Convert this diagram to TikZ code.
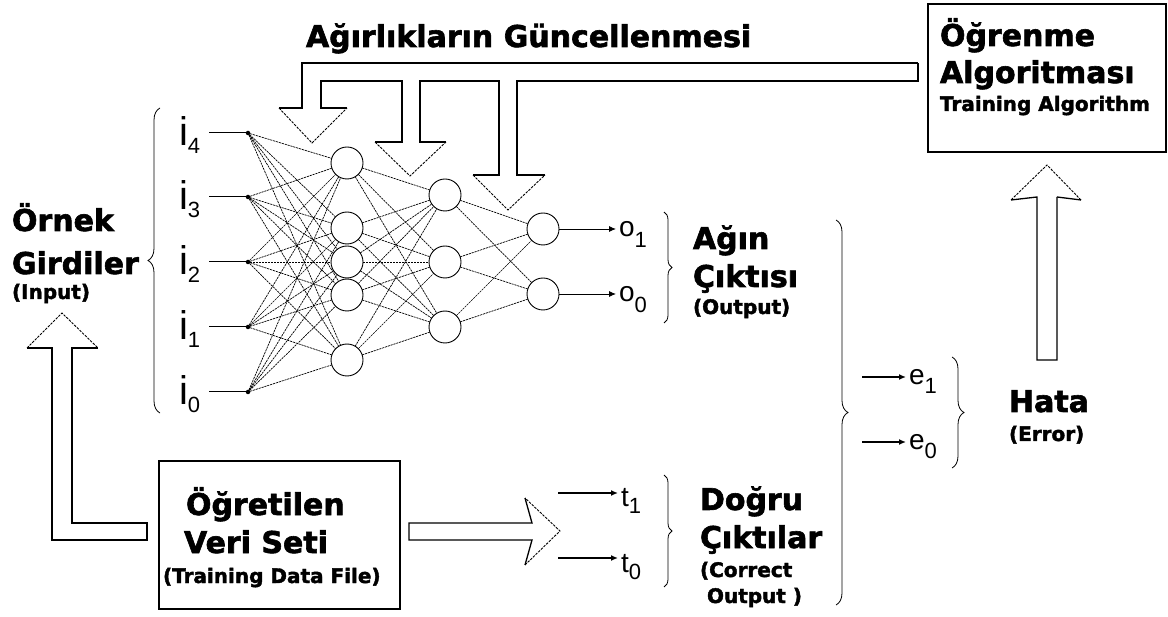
\documentclass[tikz,border=0pt]{standalone}
\usepackage{fontspec}
\setmainfont{DejaVu Sans}[BoldFeatures={FakeBold=2}]
\newfontfamily\thinsans{Liberation Sans}
\usetikzlibrary{decorations.pathreplacing,arrows.meta}
\newcommand{\sz}[1]{\fontsize{#1}{#1}\selectfont}
% symbol with a large, dropped index (i_4, o_1, ...)
\newcommand{\symb}[4]{{\sz{#1}#2}\raisebox{-#4pt}{\sz{22}#3}}
\begin{document}
\begin{tikzpicture}[x=1pt,y=-1pt,
  every node/.style={inner sep=0pt, outer sep=0pt},
  big/.style={font=\bfseries\sz{30}, anchor=base west},
  small/.style={font=\bfseries\sz{20}, anchor=base west},
  symlbl/.style={font=\thinsans, anchor=base west},
  neuron/.style={circle, draw, line width=0.9pt, minimum size=32pt},
  indot/.style={circle, fill, minimum size=4.5pt},
  syn/.style={line width=0.7pt, dash pattern=on 2.2pt off 0.8pt},
  hollow/.style={line width=1.3pt, line join=miter},
  headline/.style={line width=0.9pt, dash pattern=on 2.5pt off 1.2pt},
  brc/.style={decorate, decoration={brace, amplitude=#1}, line width=0.8pt},
  box/.style={draw, line width=1.6pt},
  arr/.style={line width=#1, -{Latex[length=7pt,width=6pt]}},
]
\useasboundingbox (0,0) rectangle (1168,617);

% ---------- title of the weight update path ----------
\node[big] (title) at (306,47) {Ağırlıkların Güncellenmesi};

% ---------- network: input points ----------
\foreach \k/\y in {4/133,3/197,2/262,1/327,0/392}{
  \node[indot] (d\k) at (248,\y) {};
  \node[symlbl] (i\k) at (179,\y+13) {\symb{40}{i}{\k}{8}};
  \draw[line width=1pt, shorten >=9pt] (d\k) -- (d\k -| i\k.east);
}
% hidden layer 1
\foreach \k/\y in {1/163,2/228,3/262,4/295,5/360}{
  \node[neuron] (a\k) at (347,\y) {};
}
% hidden layer 2
\foreach \k/\y in {1/195,2/262,3/327}{
  \node[neuron] (b\k) at (445,\y) {};
}
% output layer
\node[neuron] (c1) at (543,229) {};
\node[neuron] (c0) at (543,294) {};

% synapses
\foreach \s in {0,...,4}{
  \foreach \t in {1,...,5}{
    \draw[syn] (d\s) -- (a\t);
  }
}
\foreach \s in {1,...,5}{
  \foreach \t in {1,2,3}{
    \draw[syn] (a\s) -- (b\t);
  }
}
\foreach \s in {1,2,3}{
  \foreach \t in {0,1}{
    \draw[syn] (b\s) -- (c\t);
  }
}

% network outputs
\node[symlbl] (o1) at (619,237) {\symb{28}{o}{1}{11}};
\node[symlbl] (o0) at (619,302) {\symb{28}{o}{0}{11}};
\draw[arr=0.9pt, shorten >=3pt] (c1) -- (c1 -| o1.west);
\draw[arr=0.9pt, shorten >=3pt] (c0) -- (c0 -| o0.west);
\draw[brc=8pt] (664,212) -- (664,323);
\node[big] (agin) at (693,249) {Ağın};
\node[big] (ciktisi) at (693,287) {Çıktısı};
\node[small] (outp) at (693,314) {(Output)};

% ---------- weight update block arrows ----------
\draw[hollow] (918,63) -- (302,63) -- (302,108) -- (279,108);
\draw[headline] (279,108) -- (312,143) -- (347,108);
\draw[hollow] (347,108) -- (321,108) -- (321,81) -- (402,81) -- (402,142) -- (375,142);
\draw[headline] (375,142) -- (410,176) -- (446,142);
\draw[hollow] (446,142) -- (420,142) -- (420,81) -- (499,81) -- (499,175) -- (473,175);
\draw[headline] (473,175) -- (508,210) -- (545,175);
\draw[hollow] (545,175) -- (517,175) -- (517,81) -- (918,81) -- (918,63);

% ---------- training algorithm box ----------
\node[box, minimum width=238pt, minimum height=148pt] (algbox) at (1047,78) {};
\node[big] (ogr) at (940,46) {Öğrenme};
\node[big] (alg) at (940,83) {Algoritması};
\node[small] (talg) at (940,111) {Training Algorithm};

% error to algorithm
\draw[hollow] (1057,197) -- (1081,200);
\draw[headline] (1081,200) -- (1047,165) -- (1011,200);
\draw[hollow] (1011,200) -- (1037,197) -- (1037,360) -- (1057,360) -- (1057,197);

% ---------- sample inputs ----------
\draw[brc=12pt] (160,413) -- (160,108);
\node[big] (ornek) at (12,231) {Örnek};
\node[big] (girdiler) at (12,274) {Girdiler};
\node[small] (inp) at (12,299) {(Input)};

% data file to inputs
\draw[hollow] (98,348) -- (72,348) -- (72,523) -- (147,523) -- (147,540) -- (52,540) -- (52,348) -- (27,348);
\draw[headline] (27,348) -- (62,313) -- (98,348);

% ---------- training data file ----------
\node[box, minimum width=241pt, minimum height=148pt] (databox) at (279.5,535) {};
\node[big] (ogret) at (186,515) {Öğretilen};
\node[big] (veri) at (184,553) {Veri Seti};
\node[small] (tdf) at (163,583) {(Training Data File)};

% data file to correct outputs
\draw[hollow] (525,498) -- (532,523) -- (409,523) -- (409,540) -- (532,540) -- (525,565);
\draw[headline] (525,565) -- (560,531) -- (525,498);

% ---------- correct outputs ----------
\coordinate (ts1) at (558,493);
\coordinate (ts0) at (558,558);
\node[symlbl] (t1) at (621,507) {\symb{28}{t}{1}{7}};
\node[symlbl] (t0) at (621,572) {\symb{28}{t}{0}{7}};
\draw[arr=1.6pt, shorten >=3pt] (ts1) -- (ts1 -| t1.west);
\draw[arr=1.6pt, shorten >=3pt] (ts0) -- (ts0 -| t0.west);
\draw[brc=8pt] (664,475) -- (664,587);
\node[big] (dogru) at (700,510) {Doğru};
\node[big] (ciktilar) at (700,548) {Çıktılar};
\node[small] (corr) at (700,577) {(Correct};
\node[small] (corr2) at (707,603) {Output )};

% ---------- error ----------
\draw[brc=12pt] (836,220) -- (836,605);
\coordinate (es1) at (862,377);
\coordinate (es0) at (862,442);
\node[symlbl] (e1) at (909,385) {\symb{28}{e}{1}{9}};
\node[symlbl] (e0) at (909,450) {\symb{28}{e}{0}{9}};
\draw[arr=1.6pt, shorten >=3pt] (es1) -- (es1 -| e1.west);
\draw[arr=1.6pt, shorten >=3pt] (es0) -- (es0 -| e0.west);
\draw[brc=12pt] (952,357) -- (952,468);
\node[big] (hata) at (1009,412) {Hata};
\node[small] (err) at (1009,441) {(Error)};
\end{tikzpicture}
\end{document}
